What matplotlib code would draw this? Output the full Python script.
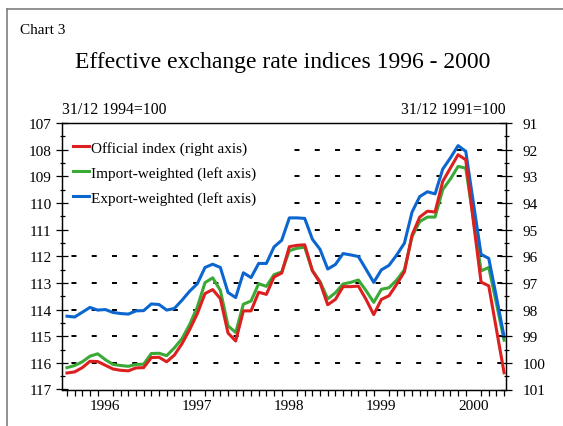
import matplotlib
matplotlib.use("Agg")
import matplotlib.pyplot as plt
from matplotlib.lines import Line2D
from matplotlib.patches import Rectangle

plt.rcParams['font.family'] = ['Liberation Serif', 'DejaVu Serif']
plt.rcParams['lines.scale_dashes'] = False

# monthly data, Jan 1996 .. Oct 2000
years = [1996, 1997, 1998, 1999, 2000]
months = list(range(58))

# left axis, 31/12 1994=100
export_weighted = [114.25, 114.28, 114.10, 113.92, 114.02, 114.00, 114.11, 114.15, 114.17, 114.05,
                   114.04, 113.79, 113.81, 114.02, 113.96, 113.65, 113.31, 113.03, 112.42, 112.30,
                   112.42, 113.36, 113.55, 112.62, 112.80, 112.27, 112.27, 111.65, 111.40, 110.56,
                   110.56, 110.58, 111.36, 111.74, 112.48, 112.31, 111.90, 111.95, 112.01, 112.49,
                   112.98, 112.51, 112.34, 111.95, 111.51, 110.34, 109.76, 109.58, 109.66, 108.73,
                   108.31, 107.85, 108.06, 110.00, 111.93, 112.08, 113.53, 115.02]
import_weighted = [116.18, 116.10, 115.96, 115.75, 115.66, 115.88, 116.06, 116.10, 116.13, 116.06,
                   116.05, 115.65, 115.64, 115.73, 115.44, 115.09, 114.56, 113.90, 112.99, 112.81,
                   113.28, 114.61, 114.86, 113.80, 113.68, 113.03, 113.13, 112.69, 112.59, 111.79,
                   111.70, 111.66, 112.54, 112.95, 113.60, 113.37, 113.04, 112.98, 112.89, 113.29,
                   113.73, 113.24, 113.18, 112.89, 112.51, 111.26, 110.70, 110.53, 110.53, 109.50,
                   109.10, 108.63, 108.69, 110.60, 112.55, 112.42, 113.77, 115.15]
# right axis, 31/12 1991=100
official_index = [100.38, 100.34, 100.18, 99.94, 99.95, 100.09, 100.23, 100.28, 100.30, 100.19,
                  100.18, 99.80, 99.79, 99.96, 99.71, 99.28, 98.75, 98.15, 97.40, 97.25,
                  97.59, 98.88, 99.18, 98.05, 98.05, 97.35, 97.43, 96.78, 96.63, 95.64,
                  95.59, 95.57, 96.54, 96.99, 97.82, 97.62, 97.14, 97.14, 97.12, 97.62,
                  98.19, 97.62, 97.48, 97.05, 96.58, 95.20, 94.53, 94.31, 94.34, 93.19,
                  92.69, 92.19, 92.38, 94.70, 96.97, 97.11, 98.74, 100.37]

RED = '#dc1f1f'
GREEN = '#3aa935'
BLUE = '#0b66cf'

fig = plt.figure(figsize=(5.63, 4.27), dpi=100)
W, H = 563, 427

# outer frame (left and top edges)
fig.add_artist(Line2D([6.5 / W, 6.5 / W], [0, 1 - 10 / H], transform=fig.transFigure,
                      color='#7f7f7f', lw=1.2))
fig.add_artist(Line2D([6.5 / W, 1], [1 - 10 / H, 1 - 10 / H], transform=fig.transFigure,
                      color='#7f7f7f', lw=1.2))

fig.text(20 / W, 1 - 31 / H, 'Chart 3', fontsize=11, va='center', ha='left')
fig.text(283 / W, 1 - 63 / H, 'Effective exchange rate indices 1996 - 2000', fontsize=17,
         va='center', ha='center')
fig.text(62 / W, 1 - 110 / H, '31/12 1994=100', fontsize=11.3, va='center', ha='left')
fig.text(506 / W, 1 - 110 / H, '31/12 1991=100', fontsize=11.3, va='center', ha='right')

ax = fig.add_axes([62 / W, 1 - 390.5 / H, 444 / W, 266.5 / H])
ax2 = ax.twinx()

ax.set_xlim(-0.65, 57.25)
ax.set_ylim(117, 107)
ax2.set_ylim(101, 91)

# dashed grid
for v in range(108, 117):
    ax.axhline(v, color='black', lw=1.4, linestyle=(7.8, (3.6, 11.0)), zorder=1)

# white legend background
ax.add_patch(Rectangle((0, 0.555), 0.505, 0.445, transform=ax.transAxes,
                       facecolor='white', edgecolor='none', zorder=1.5))

l_green, = ax.plot(months, import_weighted, color=GREEN, lw=2.2, zorder=3)
l_blue, = ax.plot(months, export_weighted, color=BLUE, lw=2.2, zorder=3)
l_red, = ax2.plot(months, official_index, color=RED, lw=2.2, zorder=3)

leg = ax.legend([l_red, l_green, l_blue],
                ['Official index (right axis)', 'Import-weighted (left axis)',
                 'Export-weighted (left axis)'],
                loc='upper left', bbox_to_anchor=(0.019, 0.945), frameon=False,
                fontsize=11, handlelength=1.0, handletextpad=0.15, labelspacing=0.72,
                borderpad=0.2, borderaxespad=0)
leg.set_zorder(4)

# axes styling
for a in (ax, ax2):
    for s in a.spines.values():
        s.set_linewidth(0.9)

ax.set_yticks(range(107, 118))
ax.set_yticks([v + 0.5 for v in range(107, 117)], minor=True)
ax2.set_yticks(range(91, 102))
ax2.set_yticks([v + 0.5 for v in range(91, 101)], minor=True)

ax.tick_params(axis='y', which='major', direction='inout', length=8, width=0.9,
               labelsize=11, pad=3.5, right=False)
ax.tick_params(axis='y', which='minor', direction='inout', length=3.6, width=0.9, right=False)
ax2.tick_params(axis='y', which='major', direction='inout', length=8, width=0.9,
                labelsize=11, pad=8, left=False)
ax2.tick_params(axis='y', which='minor', direction='inout', length=3.6, width=0.9, left=False)

ax.set_xticks(months, minor=True)
ax.set_xticks([12 * k + 5 for k in range(len(years))])
ax.set_xticklabels([str(y) for y in years])
ax.tick_params(axis='x', which='major', length=0, labelsize=11, pad=7)
ax.tick_params(axis='x', which='minor', direction='out', length=4.5, width=0.9)

fig.savefig('out.png', dpi=100)
